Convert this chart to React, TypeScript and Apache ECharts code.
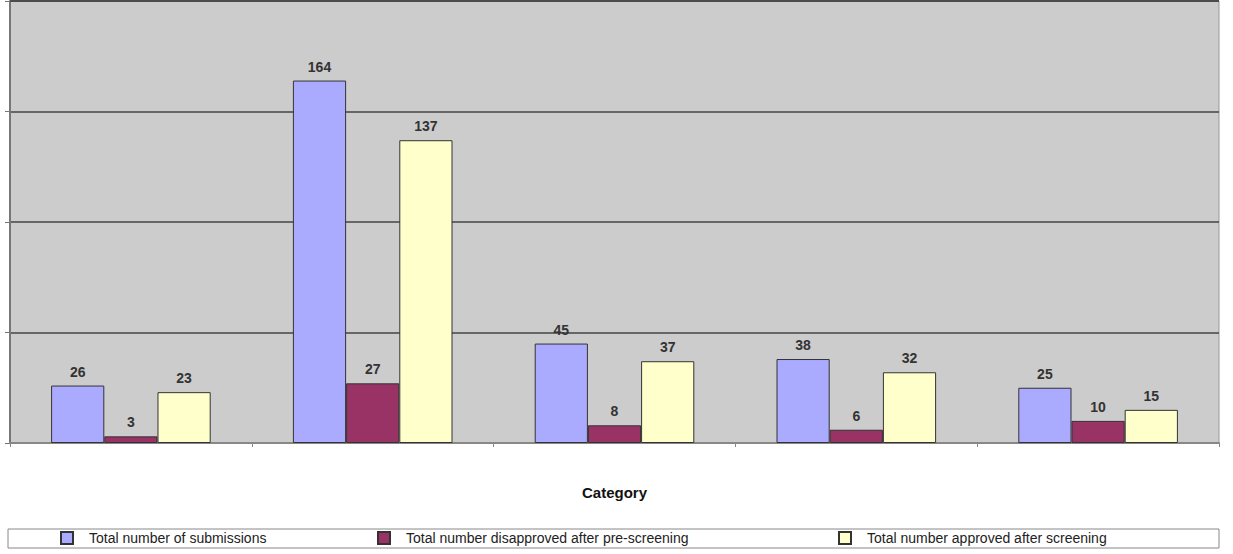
import React, { useEffect, useRef } from "react";
import * as echarts from "echarts";

const categories = ["A", "B", "C", "D", "E"];
const seriesNames = [
  "Total number of submissions",
  "Total number disapproved after pre-screening",
  "Total number approved after screening",
];
const submissions = [26, 164, 45, 38, 25];
const disapproved = [3, 27, 8, 6, 10];
const approved = [23, 137, 37, 32, 15];
const colors = ["#aaaaff", "#993366", "#ffffcc"];

export default function App() {
  const ref = useRef<HTMLDivElement>(null);
  useEffect(() => {
    if (!ref.current) return;
    const chart = echarts.init(ref.current, null, { renderer: "svg" });
    const values = [submissions, disapproved, approved];
    const legendLefts = [60, 377, 838];
    chart.setOption({
      animation: false,
      grid: {
        left: 10,
        right: 14,
        top: 1,
        bottom: 111,
        show: true,
        backgroundColor: "#cccccc",
        borderColor: "#999999",
        borderWidth: 1,
      },
      xAxis: {
        type: "category",
        data: categories,
        name: "Category",
        nameLocation: "middle",
        nameGap: 42,
        nameTextStyle: {
          fontFamily: "Liberation Sans, Arial, sans-serif",
          fontWeight: "bold",
          fontSize: 15,
          color: "#111",
        },
        axisLine: { lineStyle: { color: "#888888", width: 2 } },
        axisTick: { show: true, length: 4, lineStyle: { color: "#888888" } },
        axisLabel: { show: false },
      },
      yAxis: {
        type: "value",
        min: 0,
        max: 200,
        interval: 50,
        axisLine: { show: true, lineStyle: { color: "#777777", width: 2 } },
        axisTick: { show: true, length: 5, lineStyle: { color: "#777777" } },
        axisLabel: { show: false },
        splitLine: { lineStyle: { color: "#444444", width: 1.5 } },
      },
      legend: seriesNames.map((n, i) => ({
        data: [n],
        left: legendLefts[i],
        top: 531,
        itemWidth: 12,
        itemHeight: 12,
        itemGap: 0,
        padding: 0,
        icon: "rect",
        selectedMode: false,
        textStyle: {
          fontFamily: "Liberation Sans, Arial, sans-serif",
          fontSize: 14,
          color: "#222",
          padding: [0, 0, 0, 11],
        },
      })),
      graphic: [
        {
          type: "rect",
          shape: { x: 8, y: 529, width: 1211, height: 19 },
          style: { fill: "none", stroke: "#888888", lineWidth: 1 },
          z: 0,
        },
        {
          type: "line",
          shape: { x1: 10, y1: 1, x2: 1219, y2: 1 },
          style: { stroke: "#444444", lineWidth: 1.5 },
          z: 10,
        },
      ],
      series: seriesNames.map((n, i) => ({
        name: n,
        type: "bar",
        data: values[i],
        barGap: "0%",
        barCategoryGap: "34%",
        itemStyle: { color: colors[i], borderColor: "#333333", borderWidth: 1 },
        label: {
          show: true,
          position: "top",
          distance: 7,
          fontFamily: "Liberation Sans, Arial, sans-serif",
          fontWeight: "bold",
          fontSize: 14,
          color: "#333",
        },
      })),
    });
    return () => chart.dispose();
  }, []);
  return (
    <div
      ref={ref}
      style={{ position: "fixed", left: 0, top: 0, width: 1233, height: 554, background: "#fff" }}
    />
  );
}
